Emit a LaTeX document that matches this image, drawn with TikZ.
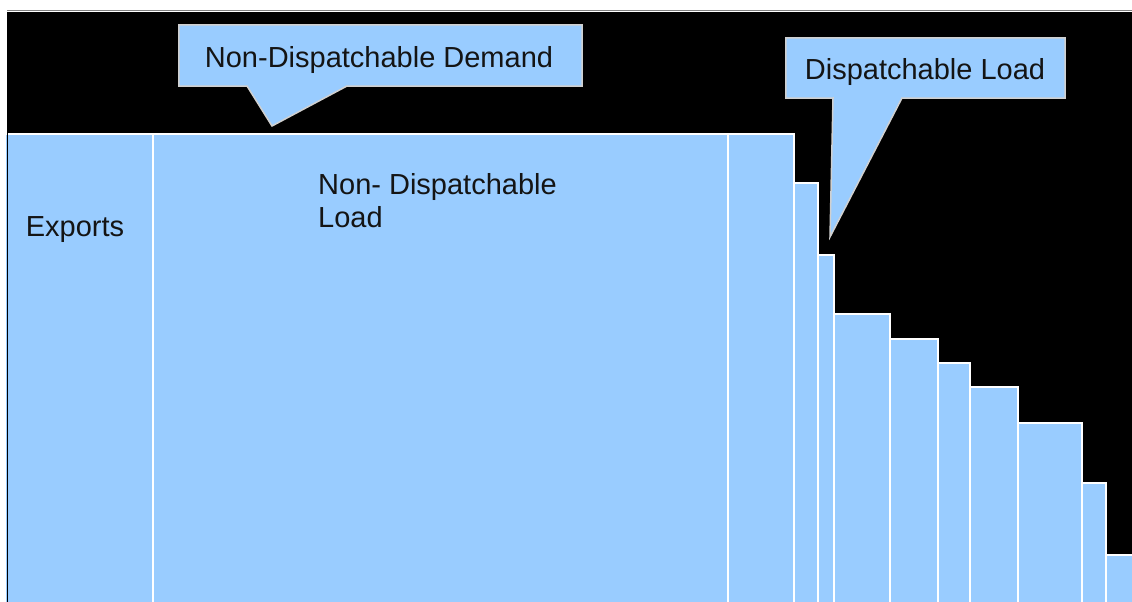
\documentclass[tikz,border=0pt]{standalone}
\usepackage{fontspec}
\setmainfont{Liberation Sans}

\tikzstyle{bar}=[fill=BarBlue, draw=white, line width=1.5pt]
\tikzstyle{callout-box}=[inner sep=0pt, minimum height=61pt]
\tikzstyle{callout-shape}=[fill=BarBlue, draw=CalloutGrey, line width=1.5pt, line join=miter]
\tikzstyle{chart-label}=[inner sep=0pt, text=TextBlack, font=\fontsize{29}{33}\selectfont]
\definecolor{BarBlue}{HTML}{99CCFF}
\definecolor{CalloutGrey}{HTML}{D0D0D0}
\definecolor{FrameGrey}{HTML}{808080}
\definecolor{TextBlack}{HTML}{141414}

\begin{document}
\begin{tikzpicture}[x=1pt, y=-1pt]
      \useasboundingbox (0,0) rectangle (1132,602);
      \fill[white] (0,0) rectangle (1132,602);
      \fill[black] (7,12) rectangle (1132,602);
      \draw[FrameGrey, line width=1pt] (7,10.5) -- (1132,10.5);

      % load duration bars
      \draw[bar] (5,134) rectangle (153,606);
      \draw[bar] (153,134) rectangle (728,606);
      \draw[bar] (728,134) rectangle (794,606);
      \draw[bar] (794,183) rectangle (818,606);
      \draw[bar] (818,255) rectangle (834,606);
      \draw[bar] (834,314) rectangle (890,606);
      \draw[bar] (890,339) rectangle (938,606);
      \draw[bar] (938,363) rectangle (970,606);
      \draw[bar] (970,387) rectangle (1018,606);
      \draw[bar] (1018,423) rectangle (1082,606);
      \draw[bar] (1082,483) rectangle (1106,606);
      \draw[bar] (1106,555) rectangle (1136,606);
      \draw[black, line width=1.5pt] (7.5,12) -- (7.5,602);

      \node (label:exports) at (75,236.5) [chart-label, anchor=base] {Exports};
      \node (label:nondisp) at (318,173) [chart-label, anchor=north west, align=left] {Non- Dispatchable\\Load};

      % callouts
      \coordinate (demand-tip) at (272,126);
      \node (demand-box) at (380.5,55.5) [callout-box, minimum width=403pt] {};
      \draw[callout-shape] (demand-box.north west) -- (demand-box.north east) -- (demand-box.south east)
        -- (347,86) -- (demand-tip) -- (247,86) -- (demand-box.south west) -- cycle;
      \node (label:demand) at (379,67) [chart-label, anchor=base] {Non-Dispatchable Demand};

      \coordinate (dispatch-tip) at (830,237);
      \node (dispatch-box) at (925.5,68) [callout-box, minimum width=279pt, minimum height=60pt] {};
      \draw[callout-shape] (dispatch-box.north west) -- (dispatch-box.north east) -- (dispatch-box.south east)
        -- (902,98) -- (dispatch-tip) -- (833,98) -- (dispatch-box.south west) -- cycle;
      \node (label:dispatch) at (925,80) [chart-label, anchor=base] {Dispatchable Load};
\end{tikzpicture}
\end{document}
